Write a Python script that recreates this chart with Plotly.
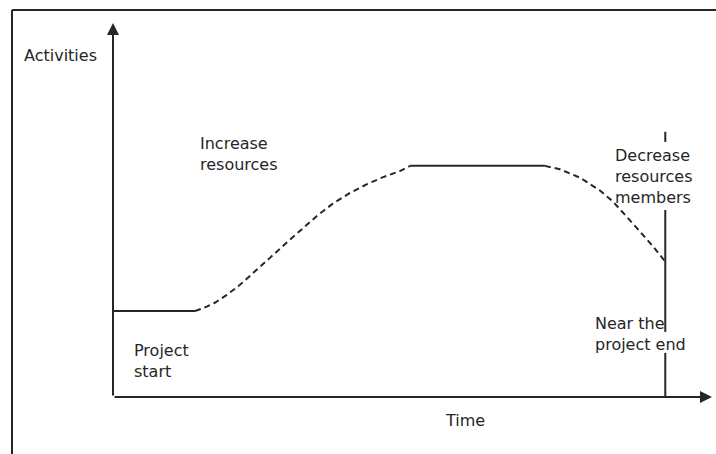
import plotly.graph_objects as go

# ---- data (time / activity level, both on a 0-100 scale) ----
start_time = [0, 13.7]
start_act = [23.0, 23.0]

rise_time = [13.7, 15.0, 17.0, 19.0, 21.2, 24.0, 26.2, 29.0, 31.9, 34.1, 36.7, 39.6, 42.4, 45.1, 47.9, 49.6]
rise_act = [23.0, 23.7, 25.2, 27.3, 30.0, 33.9, 37.2, 41.3, 45.5, 48.5, 51.7, 54.6, 56.9, 58.8, 60.4, 61.8]

plateau_time = [49.6, 72.1]
plateau_act = [61.8, 61.8]

fall_time = [72.1, 74.6, 78.0, 81.3, 83.5, 85.8, 88.0, 90.2, 92.2]
fall_act = [61.8, 60.9, 58.6, 55.2, 52.2, 48.2, 44.2, 40.2, 36.2]

end_marker_time = 92.2
end_marker_segments = [(68.2, 70.9), (17.4, 50.0), (0.0, 11.8)]

y_label = "Activities"
x_label = "Time"
labels = [
    ("Increase<br>resources", 0.1419, 0.6497),
    ("Project<br>start", 0.0317, 0.0963),
    ("Decrease<br>resources<br>members", 0.8347, 0.5909),
    ("Near the<br>project end", 0.8013, 0.1684),
]

INK = "#262626"
FONT = dict(family="DejaVu Sans", size=16, color=INK)

fig = go.Figure()

# solid parts: flat start and plateau
fig.add_trace(go.Scatter(
    x=start_time + [None] + plateau_time,
    y=start_act + [None] + plateau_act,
    mode="lines", line=dict(color=INK, width=2), hoverinfo="skip"))

# dashed transitions
fig.add_trace(go.Scatter(
    x=rise_time + [None] + fall_time,
    y=rise_act + [None] + fall_act,
    mode="lines", line=dict(color=INK, width=2, dash="6px,4px"),
    connectgaps=False, hoverinfo="skip"))

# vertical "project end" marker
mx, my = [], []
for lo, hi in end_marker_segments:
    mx += [end_marker_time, end_marker_time, None]
    my += [lo, hi, None]
fig.add_trace(go.Scatter(x=mx, y=my, mode="lines",
                         line=dict(color=INK, width=2), hoverinfo="skip"))

annotations = []
# axes with arrowheads
annotations.append(dict(x=0, y=100, ax=0, ay=0, xref="x", yref="y", axref="x", ayref="y",
                        text="", showarrow=True, arrowhead=2, arrowsize=1.2, arrowwidth=2,
                        arrowcolor=INK))
annotations.append(dict(x=100, y=0, ax=0, ay=0, xref="x", yref="y", axref="x", ayref="y",
                        text="", showarrow=True, arrowhead=2, arrowsize=1.2, arrowwidth=2,
                        arrowcolor=INK))
annotations.append(dict(x=-0.152, y=0.912, xref="paper", yref="paper", text=y_label,
                        showarrow=False, xanchor="left", yanchor="middle", font=FONT))
annotations.append(dict(x=0.5876, y=-0.0615, xref="paper", yref="paper", text=x_label,
                        showarrow=False, xanchor="center", yanchor="middle", font=FONT))
for txt, px, py in labels:
    annotations.append(dict(x=px, y=py, xref="paper", yref="paper", text=txt,
                            showarrow=False, xanchor="left", yanchor="middle", align="left",
                            font=FONT))

shapes = [
    dict(type="line", xref="paper", yref="paper", x0=-0.1686, y0=-0.16, x1=-0.1686, y1=1.0348,
         line=dict(color=INK, width=2)),
    dict(type="line", xref="paper", yref="paper", x0=-0.1686, y0=1.0348, x1=1.02, y1=1.0348,
         line=dict(color=INK, width=2)),
]

fig.update_layout(
    width=716, height=454, autosize=False,
    margin=dict(l=113, r=4, t=23, b=57),
    paper_bgcolor="white", plot_bgcolor="white",
    showlegend=False,
    xaxis=dict(range=[0, 100], visible=False, fixedrange=True),
    yaxis=dict(range=[0, 100], visible=False, fixedrange=True),
    annotations=annotations, shapes=shapes,
)

fig.write_html("out.html", config={"displayModeBar": False, "staticPlot": True},
               post_script="document.body.style.margin='0';document.body.style.overflow='hidden';")
